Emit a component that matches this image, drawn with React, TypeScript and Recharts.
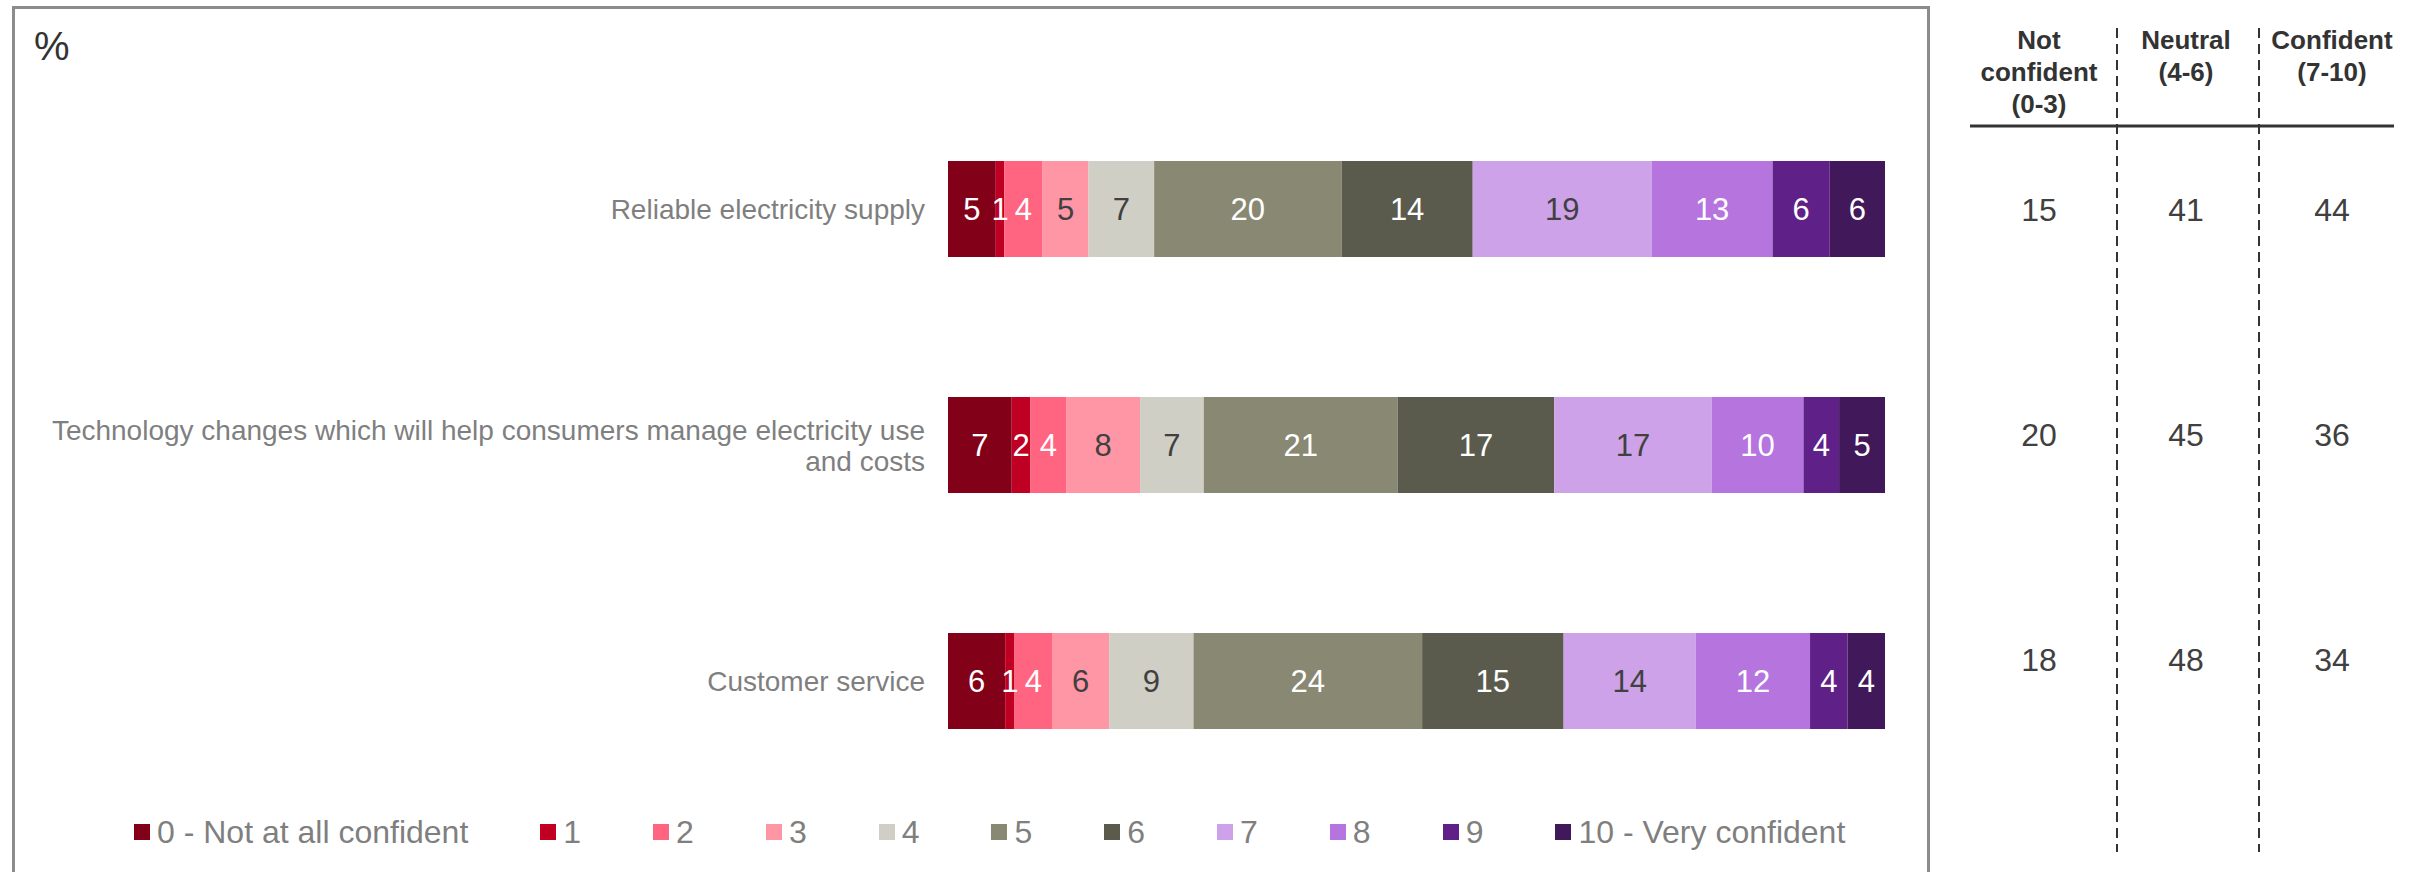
import React from 'react';
import { BarChart, Bar, XAxis, YAxis, LabelList, Legend } from 'recharts';

const categories = [
  'Reliable electricity supply',
  'Technology changes which will help consumers manage electricity use and costs',
  'Customer service',
];

const seriesNames = [
  '0 - Not at all confident', '1', '2', '3', '4', '5', '6', '7', '8', '9', '10 - Very confident',
];

// share of respondents per score (labels are rounded)
const score0 = [5.1, 6.8, 6.1];
const score1 = [0.9, 2.0, 1.0];
const score2 = [4.1, 3.8, 4.0];
const score3 = [4.9, 7.9, 6.1];
const score4 = [7.0, 6.8, 9.0];
const score5 = [20.0, 20.7, 24.4];
const score6 = [14.0, 16.7, 15.1];
const score7 = [19.1, 16.8, 14.1];
const score8 = [12.9, 9.8, 12.2];
const score9 = [6.1, 3.8, 4.0];
const score10 = [5.9, 4.9, 4.0];

const tableHeaders = [['Not', 'confident', '(0-3)'], ['Neutral', '(4-6)'], ['Confident', '(7-10)']];
const notConfident = [15, 20, 18];
const neutral = [41, 45, 48];
const confident = [44, 36, 34];

const seriesColors = [
  '#830019', '#c00023', '#ff6480', '#ff96a6', '#cfcfc6', '#898873',
  '#5a5b4c', '#cda2e8', '#b574de', '#5f2087', '#41185a',
];
const labelColors = [
  '#ffffff', '#ffffff', '#ffffff', '#404040', '#404040', '#ffffff',
  '#ffffff', '#404040', '#ffffff', '#ffffff', '#ffffff',
];

const scores = [score0, score1, score2, score3, score4, score5, score6, score7, score8, score9, score10];

const data = categories.map((category, i) => {
  const row: Record<string, string | number> = { category };
  scores.forEach((s, k) => {
    row[`s${k}`] = s[i];
  });
  return row;
});

const FONT = '"Liberation Sans", Arial, Helvetica, sans-serif';

const wrap = (text: string, maxChars: number) => {
  const words = text.split(' ');
  const lines: string[] = [];
  let cur = '';
  words.forEach((w) => {
    const next = cur ? `${cur} ${w}` : w;
    if (next.length > maxChars && cur) {
      lines.push(cur);
      cur = w;
    } else {
      cur = next;
    }
  });
  if (cur) lines.push(cur);
  return lines;
};

const CategoryTick = (props: any) => {
  const { x, y, payload } = props;
  const lines = wrap(payload.value, 70);
  const lh = 31;
  const start = -((lines.length - 1) * lh) / 2;
  return (
    <text x={x - 23} y={y} textAnchor="end" fill="#7f7f7f" fontSize={28} fontFamily={FONT}>
      {lines.map((l, i) => (
        <tspan key={i} x={x - 23} dy={i === 0 ? start + 10 : lh}>
          {l}
        </tspan>
      ))}
    </text>
  );
};

const LegendContent = (props: any) => {
  const payload = [...(props.payload || [])].sort(
    (a: any, b: any) => seriesNames.indexOf(a.value) - seriesNames.indexOf(b.value)
  );
  return (
    <div style={{ display: 'flex', alignItems: 'center', height: 40, fontFamily: FONT }}>
      {payload.map((p: any) => (
        <div key={p.value} style={{ display: 'flex', alignItems: 'center', marginRight: 72 }}>
          <span style={{ display: 'inline-block', width: 16, height: 16, background: p.color, marginRight: 7 }} />
          <span style={{ fontSize: 32, color: '#7f7f7f' }}>{p.value}</span>
        </div>
      ))}
    </div>
  );
};

const colCenters = [2039, 2186, 2332];
const rowCenters = [210, 435, 660];
const tableCols = [notConfident, neutral, confident];

export default function App() {
  return (
    <div style={{ position: 'absolute', left: 0, top: 0, width: 2425, height: 872, overflow: 'hidden', background: '#fff', fontFamily: FONT }}>
      <div style={{ position: 'absolute', left: 12, top: 6, width: 1918, height: 900, border: '3px solid #8c8c8c', boxSizing: 'border-box' }} />
      <div style={{ position: 'absolute', left: 34, top: 22, fontSize: 40, color: '#333', lineHeight: '48px' }}>%</div>

      <div style={{ position: 'absolute', left: 0, top: 0 }}>
        <BarChart
          width={2425}
          height={872}
          data={data}
          layout="vertical"
          margin={{ top: 91, right: 540, bottom: 73, left: 0 }}
          style={{ fontFamily: FONT }}
        >
          <XAxis type="number" domain={[0, 100]} hide />
          <YAxis
            type="category"
            dataKey="category"
            width={948}
            axisLine={false}
            tickLine={false}
            tickSize={0}
            tickMargin={0}
            tick={<CategoryTick />}
          />
          <Legend
            layout="horizontal"
            verticalAlign="middle"
            align="center"
            content={<LegendContent />}
            wrapperStyle={{ left: 134, top: 812, width: 1800, height: 40 }}
          />
          {seriesNames.map((name, k) => (
            <Bar
              key={name}
              dataKey={`s${k}`}
              name={name}
              stackId="a"
              fill={seriesColors[k]}
              barSize={96}
              isAnimationActive={false}
            >
              <LabelList
                dataKey={`s${k}`}
                position="center"
                fill={labelColors[k]}
                fontSize={31}
                fontFamily={FONT}
                formatter={(v: any) => Math.round(Number(v))}
              />
            </Bar>
          ))}
        </BarChart>
      </div>

      {/* summary table on the right */}
      <svg style={{ position: 'absolute', left: 0, top: 0 }} width={2425} height={872}>
        <line x1={1970} x2={2394} y1={126} y2={126} stroke="#333" strokeWidth={3} />
        <line x1={2117} x2={2117} y1={28} y2={852} stroke="#333" strokeWidth={2} strokeDasharray="10 6" />
        <line x1={2259} x2={2259} y1={28} y2={852} stroke="#333" strokeWidth={2} strokeDasharray="10 6" />
      </svg>
      {tableHeaders.map((lines, c) => (
        <div
          key={c}
          style={{
            position: 'absolute', left: colCenters[c] - 75, width: 150, top: 24,
            textAlign: 'center', fontWeight: 'bold', fontSize: 26, lineHeight: '32px', color: '#333',
          }}
        >
          {lines.map((l) => (
            <div key={l}>{l}</div>
          ))}
        </div>
      ))}
      {tableCols.map((col, c) =>
        col.map((v, r) => (
          <div
            key={`${c}-${r}`}
            style={{
              position: 'absolute', left: colCenters[c] - 60, width: 120, top: rowCenters[r] - 20,
              textAlign: 'center', fontSize: 32, lineHeight: '40px', color: '#404040',
            }}
          >
            {v}
          </div>
        ))
      )}
    </div>
  );
}
